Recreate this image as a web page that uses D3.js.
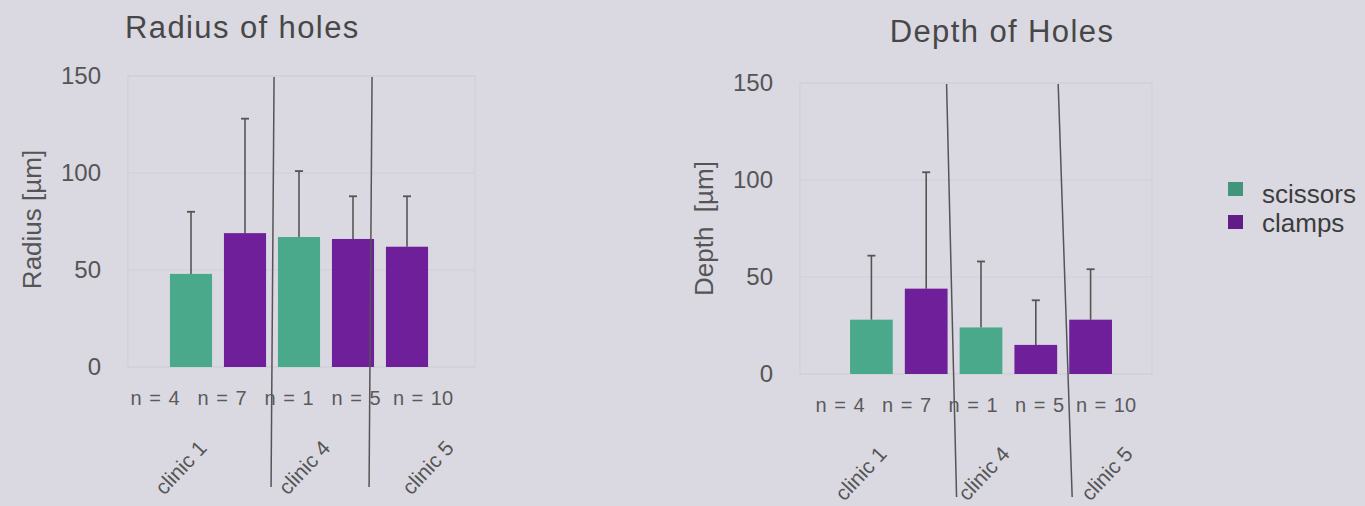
<!DOCTYPE html>
<html>
<head>
<meta charset="utf-8">
<script src="https://cdn.jsdelivr.net/npm/d3@7"></script>
<style>
  html, body { margin: 0; padding: 0; background: #dad9e2; }
  svg { display: block; font-family: "Liberation Sans", Arial, sans-serif; }
</style>
</head>
<body>
<svg id="chart" width="1365" height="506"></svg>
<script>
// ---- data ----
const barKeys = ["c1-scissors", "c1-clamps", "c4-scissors", "c4-clamps", "c5-clamps"];
const barGroups = ["scissors", "clamps", "scissors", "clamps", "clamps"];
const nLabels = ["n = 4", "n = 7", "n = 1", "n = 5", "n = 10"];
const clinics = ["clinic 1", "clinic 4", "clinic 5"];
const radiusMean = [48, 69, 67, 66, 62];
const radiusSd = [32, 59, 34, 22, 26];
const depthMean = [28, 44, 24, 15, 28];
const depthSd = [33, 60, 34, 23, 26];
const yTicks = [0, 50, 100, 150];
const legendItems = ["scissors", "clamps"];

const colors = { scissors: "#4aa98a", clamps: "#6f1f99" };

const svg = d3.select("#chart");

function drawPanel(cfg) {
  const g = svg.append("g");
  const y = d3.scaleLinear().domain([0, 150]).range([cfg.y0, cfg.y150]);
  const x = d3.scaleBand().domain(barKeys).range(cfg.barRange).paddingInner(0.22).paddingOuter(0.11);
  const nx = d3.scalePoint().domain(nLabels).range(cfg.nRange);
  const cx = d3.scalePoint().domain(clinics).range(cfg.clinicRange);

  // panel border
  g.append("rect")
    .attr("x", cfg.panel[0]).attr("y", y(150))
    .attr("width", cfg.panel[1] - cfg.panel[0]).attr("height", y(0) - y(150))
    .attr("fill", "none").attr("stroke", "#d0d0d9").attr("stroke-width", 1.2);

  // grid
  g.selectAll(".grid").data(yTicks).join("line")
    .attr("x1", cfg.panel[0]).attr("x2", cfg.panel[1])
    .attr("y1", d => y(d)).attr("y2", d => y(d))
    .attr("stroke", "#d0d0d9").attr("stroke-width", 1.2);

  // y axis via d3
  const axis = d3.axisLeft(y).tickValues(yTicks).tickSize(0).tickPadding(0);
  const ag = g.append("g").attr("transform", `translate(${cfg.tickRight},0)`).call(axis);
  ag.select(".domain").remove();
  ag.selectAll("text").attr("font-size", 24).attr("fill", "#555").attr("font-family", "Liberation Sans, Arial, sans-serif");

  const vals = cfg.mean, sds = cfg.sd;
  // error bars
  const eb = g.selectAll(".eb").data(barKeys).join("g");
  eb.append("line")
    .attr("x1", d => x(d) + x.bandwidth() / 2).attr("x2", d => x(d) + x.bandwidth() / 2)
    .attr("y1", (d, i) => y(vals[i])).attr("y2", (d, i) => y(vals[i] + sds[i]))
    .attr("stroke", "#555").attr("stroke-width", 1.6);
  eb.append("line")
    .attr("x1", d => x(d) + x.bandwidth() / 2 - 4).attr("x2", d => x(d) + x.bandwidth() / 2 + 4)
    .attr("y1", (d, i) => y(vals[i] + sds[i])).attr("y2", (d, i) => y(vals[i] + sds[i]))
    .attr("stroke", "#555").attr("stroke-width", 1.8);

  // bars
  g.selectAll(".bar").data(barKeys).join("rect")
    .attr("x", d => x(d)).attr("width", x.bandwidth())
    .attr("y", (d, i) => y(vals[i])).attr("height", (d, i) => y(0) - y(vals[i]))
    .attr("fill", (d, i) => colors[barGroups[i]]);

  // n labels
  g.selectAll(".nl").data(nLabels).join("text")
    .attr("x", d => nx(d)).attr("y", cfg.nY)
    .attr("text-anchor", "middle").attr("font-size", 20).attr("fill", "#5a5a5a")
    .attr("word-spacing", 2)
    .text(d => d);

  // clinic labels rotated
  g.selectAll(".cl").data(clinics).join("text")
    .attr("transform", d => `translate(${cx(d)},${cfg.clinicY}) rotate(-47)`)
    .attr("text-anchor", "end").attr("font-size", 21).attr("fill", "#555")
    .text(d => d);

  // separator lines
  cfg.seps.forEach(s => {
    g.append("line")
      .attr("x1", x(barKeys[s.after]) + x.bandwidth() + s.dTop).attr("y1", y(150) + 1)
      .attr("x2", x(barKeys[s.after]) + x.bandwidth() + s.dBottom).attr("y2", cfg.sepBottom)
      .attr("stroke", "#555").attr("stroke-width", 1.5);
  });

  // title
  g.append("text").attr("x", cfg.titleX).attr("y", cfg.titleY)
    .attr("text-anchor", cfg.titleAnchor).attr("font-size", 31).attr("fill", "#474747")
    .attr("letter-spacing", 1.4)
    .text(cfg.title);

  // y title
  g.append("text")
    .attr("transform", `translate(${cfg.yTitleX},${(y(0) + y(150)) / 2 + cfg.yTitleDy}) rotate(-90)`)
    .attr("text-anchor", "middle").attr("font-size", 26).attr("fill", "#555")
    .attr("xml:space", "preserve")
    .text(cfg.yTitle);
}

drawPanel({
  y0: 367, y150: 76, panel: [128, 475], barRange: [164, 434],
  tickRight: 101, mean: radiusMean, sd: radiusSd,
  nRange: [155, 423], nY: 405, clinicRange: [208, 455], clinicY: 449,
  seps: [{ after: 1, dTop: 8, dBottom: 5 }, { after: 3, dTop: -2, dBottom: -5 }],
  sepBottom: 487,
  title: "Radius of holes", titleX: 125, titleY: 38, titleAnchor: "start",
  yTitle: "Radius [µm]", yTitleX: 41, yTitleDy: -2
});

drawPanel({
  y0: 374, y150: 83, panel: [800, 1152], barRange: [844, 1118],
  tickRight: 773, mean: depthMean, sd: depthSd,
  nRange: [840, 1106], nY: 412, clinicRange: [888, 1134], clinicY: 455,
  seps: [{ after: 1, dTop: -1, dBottom: 9 }, { after: 3, dTop: 1, dBottom: 15 }],
  sepBottom: 497,
  title: "Depth of Holes", titleX: 1002, titleY: 42, titleAnchor: "middle",
  yTitle: "Depth  [µm]", yTitleX: 713, yTitleDy: 0
});

// legend
const lg = svg.append("g").attr("transform", "translate(1228,182)");
lg.selectAll("rect").data(legendItems).join("rect")
  .attr("x", 0).attr("y", (d, i) => i * 33).attr("width", 15).attr("height", 14)
  .attr("fill", d => d3.color(colors[d]).darker(0.35));
lg.selectAll("text").data(legendItems).join("text")
  .attr("x", 34).attr("y", (d, i) => i * 29 + 21)
  .attr("font-size", 26).attr("fill", "#3c3c3c")
  .text(d => d);
</script>
</body>
</html>
